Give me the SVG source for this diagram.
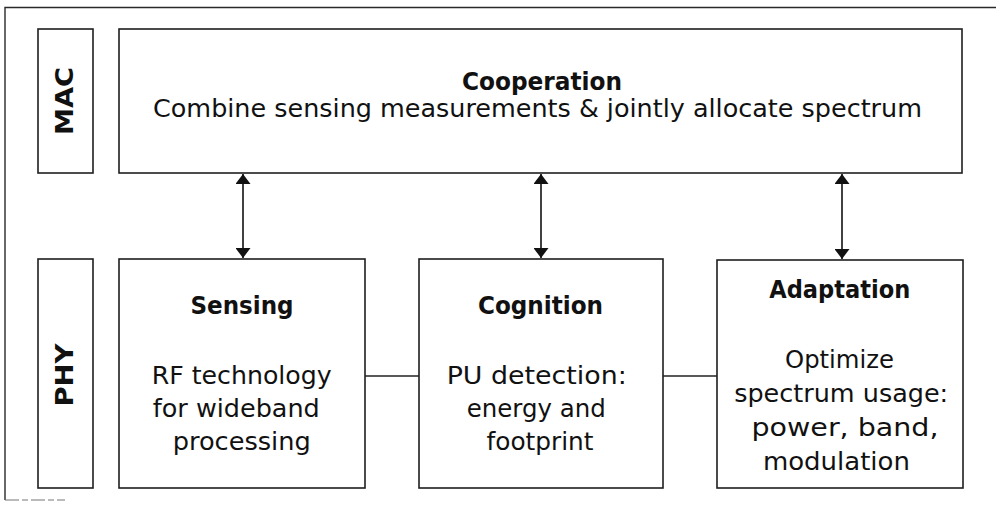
<svg xmlns="http://www.w3.org/2000/svg" width="996" height="505" viewBox="0 0 996 505">
<style>
.box{fill:#fff;stroke:#1e1e1e;stroke-width:1.6}
.frame{fill:none;stroke:#2a2a2a;stroke-width:1.4}
.lbl{font-family:"DejaVu Sans","Liberation Sans",sans-serif;font-weight:bold;font-size:25px;fill:#111;text-anchor:middle}
.ttl{font-family:"DejaVu Sans","Liberation Sans",sans-serif;font-weight:bold;font-size:24px;fill:#111;text-anchor:middle}
.txt{font-family:"DejaVu Sans","Liberation Sans",sans-serif;font-size:24px;fill:#111;text-anchor:middle}
.big{font-family:"DejaVu Sans","Liberation Sans",sans-serif;font-size:24.5px;fill:#111;text-anchor:middle}
.arr{stroke:#111;stroke-width:1.6;fill:none;marker-start:url(#ah);marker-end:url(#ah)}
.ln{stroke:#222;stroke-width:1.3;fill:none}
</style>
<defs>
<marker id="ah" viewBox="0 0 10 10" refX="10" refY="5" markerWidth="10" markerHeight="15" markerUnits="userSpaceOnUse" orient="auto-start-reverse" preserveAspectRatio="none">
<path d="M0,0 L10,5 L0,10 Z" fill="#111"/>
</marker>
</defs>
<rect width="996" height="505" fill="#fff"/>
<g id="frame">
<path class="frame" d="M5,500 V7.5 H996"/>
<path d="M5,500 H65" stroke="#777" stroke-width="1" stroke-dasharray="14,3,6,3"/>
</g>
<g id="mac">
<rect class="box" x="38" y="29" width="55" height="144"/>
<text class="lbl" transform="translate(73,101) rotate(-90)" textLength="68" lengthAdjust="spacingAndGlyphs">MAC</text>
</g>
<g id="phy">
<rect class="box" x="38" y="259" width="55" height="229"/>
<text class="lbl" transform="translate(73,375) rotate(-90)" textLength="63" lengthAdjust="spacingAndGlyphs">PHY</text>
</g>
<g id="cooperation">
<rect class="box" x="119" y="29" width="843" height="144"/>
<text class="ttl" x="542" y="89.5" textLength="160" lengthAdjust="spacingAndGlyphs">Cooperation</text>
<text class="big" x="537.5" y="117" textLength="769" lengthAdjust="spacingAndGlyphs">Combine sensing measurements &amp; jointly allocate spectrum</text>
</g>
<g id="sensing">
<rect class="box" x="119" y="259" width="246" height="229"/>
<text class="ttl" x="242" y="314" textLength="103" lengthAdjust="spacingAndGlyphs">Sensing</text>
<text class="txt" x="241.7" y="384" textLength="180" lengthAdjust="spacingAndGlyphs">RF technology</text>
<text class="txt" x="236.3" y="417" textLength="167" lengthAdjust="spacingAndGlyphs">for wideband</text>
<text class="txt" x="241.7" y="449.5" textLength="138" lengthAdjust="spacingAndGlyphs">processing</text>
</g>
<g id="cognition">
<rect class="box" x="419" y="259" width="244" height="229"/>
<text class="ttl" x="540.5" y="314" textLength="125" lengthAdjust="spacingAndGlyphs">Cognition</text>
<text class="txt" x="536.7" y="384" textLength="180" lengthAdjust="spacingAndGlyphs">PU detection:</text>
<text class="txt" x="536.2" y="417" textLength="139" lengthAdjust="spacingAndGlyphs">energy and</text>
<text class="txt" x="540" y="449.5" textLength="107" lengthAdjust="spacingAndGlyphs">footprint</text>
</g>
<g id="adaptation">
<rect class="box" x="717" y="260" width="246" height="228"/>
<text class="ttl" x="839.7" y="297.5" textLength="141" lengthAdjust="spacingAndGlyphs">Adaptation</text>
<text class="txt" x="839.5" y="367.5" textLength="109" lengthAdjust="spacingAndGlyphs">Optimize</text>
<text class="txt" x="841.2" y="401.5" textLength="214" lengthAdjust="spacingAndGlyphs">spectrum usage:</text>
<text class="txt" x="845" y="435.5" textLength="187" lengthAdjust="spacingAndGlyphs">power, band,</text>
<text class="txt" x="836.4" y="469.5" textLength="147" lengthAdjust="spacingAndGlyphs">modulation</text>
</g>
<g id="connectors">
<line class="arr" x1="243" y1="174" x2="243" y2="258"/>
<line class="arr" x1="541" y1="174" x2="541" y2="258"/>
<line class="arr" x1="842" y1="174" x2="842" y2="259"/>
<line class="ln" x1="365" y1="376" x2="419" y2="376"/>
<line class="ln" x1="663" y1="376" x2="717" y2="376"/>
</g>
</svg>
